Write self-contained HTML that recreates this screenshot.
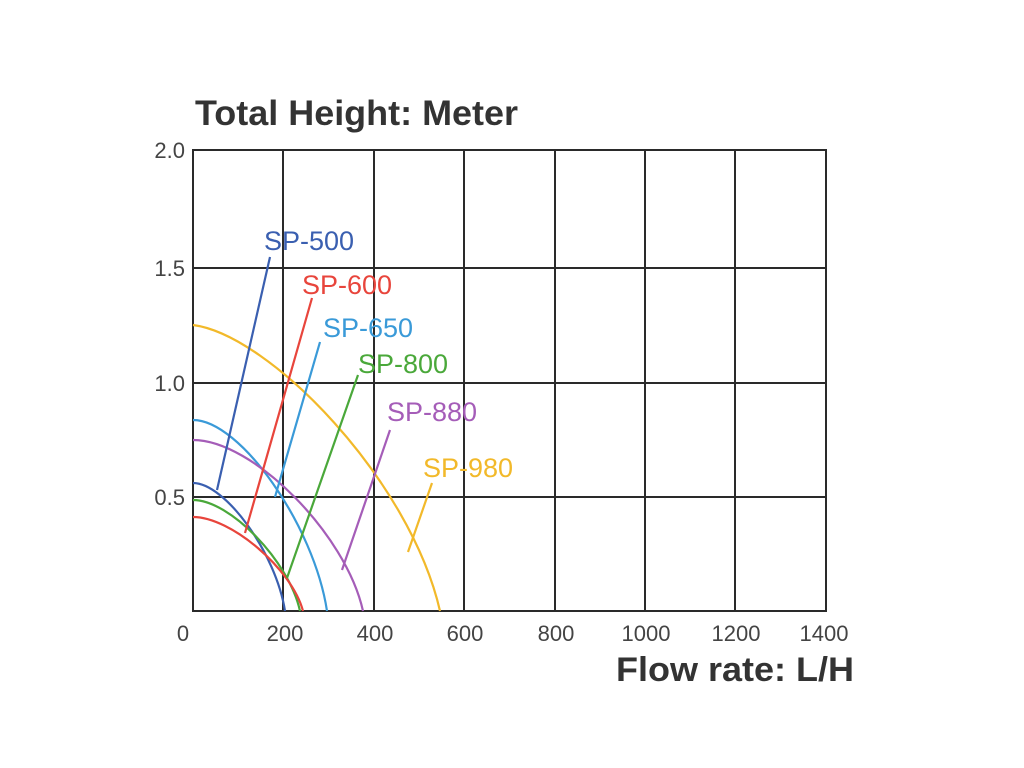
<!DOCTYPE html>
<html><head><meta charset="utf-8"><style>body{margin:0;background:#fff}svg{display:block}</style></head><body>
<svg width="1024" height="768" viewBox="0 0 1024 768" xmlns="http://www.w3.org/2000/svg" font-family="Liberation Sans, sans-serif">
<rect width="1024" height="768" fill="#fff"/>
<text x="195" y="125" font-size="35" font-weight="bold" fill="#333" textLength="323" lengthAdjust="spacingAndGlyphs">Total Height:  Meter</text>
<g stroke="#2a2a2a" stroke-width="2" fill="none">
<rect x="193" y="150" width="633" height="461"/>
<path d="M283,150V611M374,150V611M464,150V611M555,150V611M645,150V611M735,150V611M193,268H826M193,383H826M193,497H826"/>
</g>
<g font-size="22" fill="#444" text-anchor="end">
<text x="185" y="158">2.0</text><text x="185" y="276">1.5</text><text x="185" y="391">1.0</text><text x="185" y="505">0.5</text>
</g>
<g font-size="22" fill="#444" text-anchor="middle">
<text x="183" y="641">0</text><text x="285" y="641">200</text><text x="375" y="641">400</text><text x="465" y="641">600</text><text x="556" y="641">800</text><text x="646" y="641">1000</text><text x="736" y="641">1200</text><text x="824" y="641">1400</text>
</g>
<text x="616" y="681" font-size="34" font-weight="bold" fill="#333" textLength="238" lengthAdjust="spacingAndGlyphs">Flow rate:  L/H</text>
<g fill="none" stroke-width="2.2">
<path stroke="#f2b92a" d="M193,325 C270,335 410,480 440,611"/>
<path stroke="#3a9ad8" d="M193,420 C240,420 314,525 327,611"/>
<path stroke="#a55db8" d="M193,440 C253,440 346,534 363,611"/>
<path stroke="#3a5fb0" d="M193,483 C225,483 276,553 285,611"/>
<path stroke="#4aa83a" d="M193,500 C230,500 289,561 300,611"/>
<path stroke="#e8453c" d="M193,517 C231,517 292,569 303,611"/>
<path stroke="#3a5fb0" d="M270,257L217,490"/>
<path stroke="#e8453c" d="M312,298L245,533"/>
<path stroke="#3a9ad8" d="M320,342L275,497"/>
<path stroke="#4aa83a" d="M358,375L287,578"/>
<path stroke="#a55db8" d="M390,430L342,570"/>
<path stroke="#f2b92a" d="M432,483L408,552"/>
</g>
<g font-size="27">
<text x="264" y="250" fill="#3a5fb0">SP-500</text>
<text x="302" y="294" fill="#e8453c">SP-600</text>
<text x="323" y="337" fill="#3a9ad8">SP-650</text>
<text x="358" y="373" fill="#4aa83a">SP-800</text>
<text x="387" y="421" fill="#a55db8">SP-880</text>
<text x="423" y="477" fill="#f2b92a">SP-980</text>
</g>
</svg>
</body></html>
